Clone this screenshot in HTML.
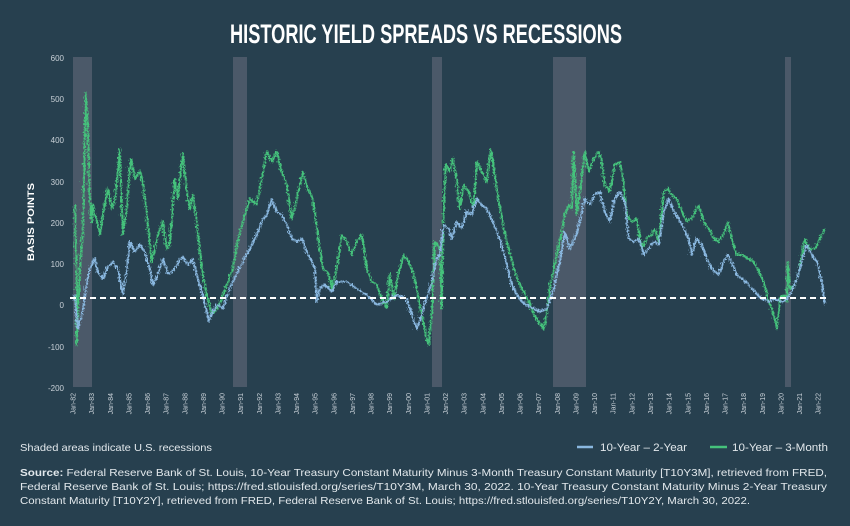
<!DOCTYPE html>
<html><head><meta charset="utf-8"><style>
html,body{margin:0;padding:0;background:#27404f;}
svg{display:block;}
</style></head><body>
<svg width="850" height="526" viewBox="0 0 850 526" xmlns="http://www.w3.org/2000/svg">
<defs>
<filter id="jit" filterUnits="userSpaceOnUse" x="0" y="0" width="850" height="526">
<feTurbulence type="turbulence" baseFrequency="0.6 0.35" numOctaves="1" seed="3" result="n"/>
<feDisplacementMap in="SourceGraphic" in2="n" scale="5" xChannelSelector="R" yChannelSelector="G"/>
</filter>
</defs>
<rect width="850" height="526" fill="#27404f"/>
<text x="230" y="43" font-family="Liberation Sans, sans-serif" font-weight="bold" font-size="27" fill="#ffffff" textLength="392" lengthAdjust="spacingAndGlyphs">HISTORIC YIELD SPREADS VS RECESSIONS</text>

<g fill="#4b5969">
<rect x="73" y="57" width="19" height="330"/>
<rect x="233" y="57" width="14" height="330"/>
<rect x="432" y="57" width="10" height="330"/>
<rect x="553" y="57" width="33" height="330"/>
<rect x="785" y="57" width="6" height="330"/>
</g>

<g font-family="Liberation Sans, sans-serif" font-size="8" fill="#c9d1d8" text-anchor="end">
<text x="64" y="61">600</text>
<text x="64" y="102">500</text>
<text x="64" y="143">400</text>
<text x="64" y="185">300</text>
<text x="64" y="226">200</text>
<text x="64" y="267">100</text>
<text x="64" y="308">0</text>
<text x="64" y="350">-100</text>
<text x="64" y="391">-200</text>
</g>
<text transform="translate(34,222) rotate(-90)" font-family="Liberation Sans, sans-serif" font-weight="bold" font-size="9.5" fill="#ffffff" text-anchor="middle" textLength="78" lengthAdjust="spacingAndGlyphs">BASIS POINTS</text>

<g font-family="Liberation Sans, sans-serif" font-size="7" fill="#c9d1d8" text-anchor="end">
<text transform="translate(75.5,393) rotate(-90)">Jan-82</text>
<text transform="translate(94.1,393) rotate(-90)">Jan-83</text>
<text transform="translate(112.8,393) rotate(-90)">Jan-84</text>
<text transform="translate(131.4,393) rotate(-90)">Jan-85</text>
<text transform="translate(150.0,393) rotate(-90)">Jan-86</text>
<text transform="translate(168.7,393) rotate(-90)">Jan-87</text>
<text transform="translate(187.3,393) rotate(-90)">Jan-88</text>
<text transform="translate(205.9,393) rotate(-90)">Jan-89</text>
<text transform="translate(224.5,393) rotate(-90)">Jan-90</text>
<text transform="translate(243.2,393) rotate(-90)">Jan-91</text>
<text transform="translate(261.8,393) rotate(-90)">Jan-92</text>
<text transform="translate(280.4,393) rotate(-90)">Jan-93</text>
<text transform="translate(299.1,393) rotate(-90)">Jan-94</text>
<text transform="translate(317.7,393) rotate(-90)">Jan-95</text>
<text transform="translate(336.3,393) rotate(-90)">Jan-96</text>
<text transform="translate(354.9,393) rotate(-90)">Jan-97</text>
<text transform="translate(373.6,393) rotate(-90)">Jan-98</text>
<text transform="translate(392.2,393) rotate(-90)">Jan-99</text>
<text transform="translate(410.8,393) rotate(-90)">Jan-00</text>
<text transform="translate(429.5,393) rotate(-90)">Jan-01</text>
<text transform="translate(448.1,393) rotate(-90)">Jan-02</text>
<text transform="translate(466.7,393) rotate(-90)">Jan-03</text>
<text transform="translate(485.3,393) rotate(-90)">Jan-04</text>
<text transform="translate(504.0,393) rotate(-90)">Jan-05</text>
<text transform="translate(522.6,393) rotate(-90)">Jan-06</text>
<text transform="translate(541.2,393) rotate(-90)">Jan-07</text>
<text transform="translate(559.9,393) rotate(-90)">Jan-08</text>
<text transform="translate(578.5,393) rotate(-90)">Jan-09</text>
<text transform="translate(597.1,393) rotate(-90)">Jan-10</text>
<text transform="translate(615.7,393) rotate(-90)">Jan-11</text>
<text transform="translate(634.4,393) rotate(-90)">Jan-12</text>
<text transform="translate(653.0,393) rotate(-90)">Jan-13</text>
<text transform="translate(671.6,393) rotate(-90)">Jan-14</text>
<text transform="translate(690.3,393) rotate(-90)">Jan-15</text>
<text transform="translate(708.9,393) rotate(-90)">Jan-16</text>
<text transform="translate(727.5,393) rotate(-90)">Jan-17</text>
<text transform="translate(746.1,393) rotate(-90)">Jan-18</text>
<text transform="translate(764.8,393) rotate(-90)">Jan-19</text>
<text transform="translate(783.4,393) rotate(-90)">Jan-20</text>
<text transform="translate(802.0,393) rotate(-90)">Jan-21</text>
<text transform="translate(820.7,393) rotate(-90)">Jan-22</text>
</g>

<g fill="none" stroke-linejoin="round" stroke-width="2" filter="url(#jit)">
<polyline stroke="#45c27b" points="73,203 75,280 75,343 78,267 81,233 84,91 86,123 88,197 90,220 91,203 95,220 98,233 101,213 106,187 110,207 113,200 118,148 121,233 125,207 129,157 133,177 138,170 141,180 145,213 150,260 153,247 156,233 161,220 165,247 168,243 173,177 176,197 181,152 185,190 188,207 191,193 195,220 200,267 205,293 210,313 215,307 220,297 225,283 231,267 236,240 241,220 248,197 255,203 260,177 265,150 270,160 275,150 280,170 285,183 290,217 295,197 301,170 306,187 311,197 316,233 321,267 326,270 330,287 335,267 340,233 345,240 350,253 355,240 360,233 365,267 370,280 375,283 380,297 385,307 388,273 392,297 397,270 402,253 407,260 412,273 416,293 420,313 424,333 427,343 430,313 433,240 438,247 440,307 442,203 444,163 448,170 451,157 455,177 458,207 462,183 467,190 472,207 475,160 480,170 485,180 489,148 493,173 497,200 502,227 507,247 512,267 517,280 522,290 527,300 532,313 537,320 542,327 545,313 548,287 552,267 555,253 560,230 563,213 567,203 570,207 572,150 575,213 578,190 583,150 587,170 592,157 597,150 600,160 603,183 608,190 613,163 618,160 622,183 625,213 630,220 635,217 640,247 645,237 650,233 653,227 657,240 662,190 666,187 670,193 675,197 680,210 685,220 690,217 697,203 702,220 707,227 712,237 717,240 722,233 726,220 730,237 735,253 740,253 747,257 752,260 757,270 762,280 766,297 770,307 775,327 778,297 782,293 785,300 786,260 788,287 793,283 798,267 803,237 808,247 813,247 818,237 823,227"/>
<polyline stroke="#8ab8e0" points="73,293 76,327 81,310 85,280 88,267 93,257 96,270 101,277 106,265 111,260 116,267 121,293 125,267 128,240 133,250 138,243 143,250 148,267 151,283 156,273 161,257 166,272 171,270 176,262 181,255 186,263 191,257 196,277 201,293 207,320 211,310 216,303 221,307 226,293 231,280 236,270 241,260 248,247 255,233 260,220 265,213 270,197 275,210 280,213 285,223 290,237 295,240 300,237 305,250 310,260 313,267 315,300 318,287 323,283 330,290 335,280 345,280 355,287 365,293 375,303 385,300 395,293 405,297 410,313 415,327 420,313 425,297 430,280 435,257 438,253 442,223 447,227 450,237 455,220 460,227 465,210 470,213 475,197 480,203 485,207 490,217 495,230 500,243 505,263 510,283 515,293 520,300 525,303 532,307 538,310 545,307 552,287 558,260 563,230 568,247 573,237 578,220 583,197 588,203 593,193 598,190 603,210 608,220 613,197 618,190 623,200 627,237 632,240 637,237 642,253 647,247 652,240 657,243 662,210 667,197 672,210 677,217 682,227 687,237 690,253 695,237 700,243 705,257 710,267 717,273 722,260 726,253 730,260 735,273 740,277 747,283 753,290 760,297 767,300 773,297 780,300 785,297 790,290 795,277 800,260 805,243 810,253 815,260 820,280 823,303"/>
</g>

<line x1="70" y1="298" x2="826" y2="298" stroke="#ffffff" stroke-width="2" stroke-dasharray="6,4"/>

<g font-family="Liberation Sans, sans-serif" fill="#e2e8ec">
<text x="20" y="451" font-size="10.5" textLength="192" lengthAdjust="spacingAndGlyphs">Shaded areas indicate U.S. recessions</text>
<line x1="577" y1="447" x2="593" y2="447" stroke="#8ab8e0" stroke-width="2.5"/>
<text x="600" y="451" font-size="11" textLength="87" lengthAdjust="spacingAndGlyphs">10-Year – 2-Year</text>
<line x1="710" y1="447" x2="727" y2="447" stroke="#45c27b" stroke-width="2.5"/>
<text x="732" y="451" font-size="11" textLength="96" lengthAdjust="spacingAndGlyphs">10-Year – 3-Month</text>
<text x="20" y="476" font-size="10.5" textLength="807" lengthAdjust="spacingAndGlyphs"><tspan font-weight="bold">Source:</tspan> Federal Reserve Bank of St. Louis, 10-Year Treasury Constant Maturity Minus 3-Month Treasury Constant Maturity [T10Y3M], retrieved from FRED,</text>
<text x="20" y="490" font-size="10.5" textLength="807" lengthAdjust="spacingAndGlyphs">Federal Reserve Bank of St. Louis; https://fred.stlouisfed.org/series/T10Y3M, March 30, 2022. 10-Year Treasury Constant Maturity Minus 2-Year Treasury</text>
<text x="20" y="504" font-size="10.5" textLength="730" lengthAdjust="spacingAndGlyphs">Constant Maturity [T10Y2Y], retrieved from FRED, Federal Reserve Bank of St. Louis; https://fred.stlouisfed.org/series/T10Y2Y, March 30, 2022.</text>
</g>
</svg>
</body></html>
